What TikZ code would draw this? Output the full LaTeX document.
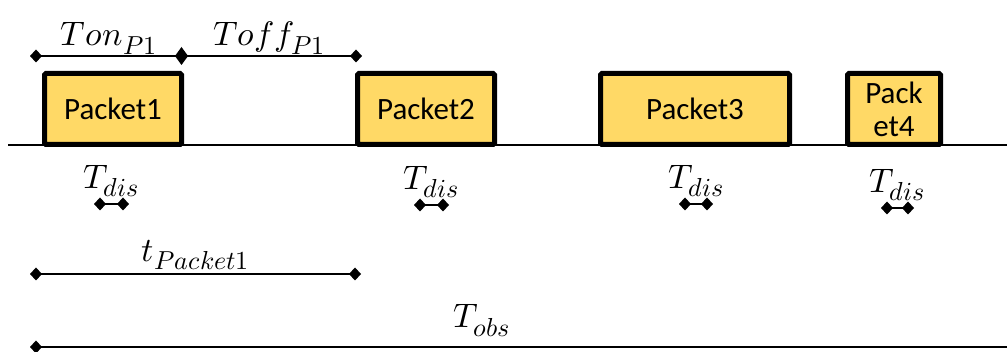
\documentclass[tikz,border=0pt]{standalone}
\usepackage{fontspec}
\usepackage{unicode-math}
\setmainfont{Carlito}
\setmathfont{Latin Modern Math}
\DeclareMathSizes{34}{34}{26}{20}
\usetikzlibrary{arrows.meta, positioning}
\definecolor{packetfill}{HTML}{FFD966}

\begin{document}
\begin{tikzpicture}[x=1pt, y=-1pt,
    packet/.style={draw, line width=5pt, fill=packetfill, minimum height=71pt,
        rounded corners=1.5pt, inner sep=0pt, align=center,
        font=\fontsize{31}{33}\selectfont},
    span/.style={line width=1.8pt, shorten <=-6pt, shorten >=-6pt,
        {Diamond[length=12pt,width=13pt]}-{Diamond[length=12pt,width=13pt]}},
    lbl/.style={font=\fontsize{34}{36}\selectfont, inner sep=1pt}]
    \useasboundingbox (0,0) rectangle (1007,352);

    % Time axis
    \coordinate (axL) at (8,145);
    \coordinate (axR) at (1007,145);
    \draw[line width=1.6pt] (axL) -- (axR);

    % Packets on the axis
    \node[packet, minimum width=137pt] (p1) at (113,109) {Packet1};
    \node[packet, minimum width=137pt] (p2) at (426,109) {Packet2};
    \node[packet, minimum width=189pt] (p3) at (695,109) {Packet3};
    \node[packet, minimum width=93pt]  (p4) at (894,109) {Pack\\et4};

    % On / off periods of packet 1
    \coordinate (on0) at (36,56);
    \coordinate (on1) at (182,56);
    \coordinate (off1) at (356,56);
    \draw[span, {Diamond[length=12pt,width=13pt]}-{Diamond[length=13pt,width=18pt]}]
        (on0) -- node[lbl, above] (tonlbl) {$Ton_{P1}$} (on1);
    \draw[span] (on1) -- node[lbl, above] (tofflbl) {$Toff_{P1}$} (off1);

    % Display times under each packet
    \foreach \i/\xa/\xb/\yy in {1/100/123/204, 2/420/443/205, 3/685/707/204, 4/887/908/208} {
        \coordinate (d\i a) at (\xa,\yy);
        \coordinate (d\i b) at (\xb,\yy);
        \draw[span] (d\i a) -- node[lbl, above=5pt] (dis\i) {$T_{dis}$} (d\i b);
    }

    % Duration of packet 1
    \coordinate (tp0) at (36,274);
    \coordinate (tp1) at (355,274);
    \draw[span] (tp0) -- node[lbl, above=2pt] (tplbl) {$t_{Packet1}$} (tp1);

    % Observation window
    \coordinate (obs0) at (36,347);
    \coordinate (obs1) at (1013,347);
    \draw[span, line width=2.2pt] (obs0) -- (obs1);
    \node[lbl, anchor=base] (obslbl) at (482,328) {$T_{obs}$};
\end{tikzpicture}
\end{document}
